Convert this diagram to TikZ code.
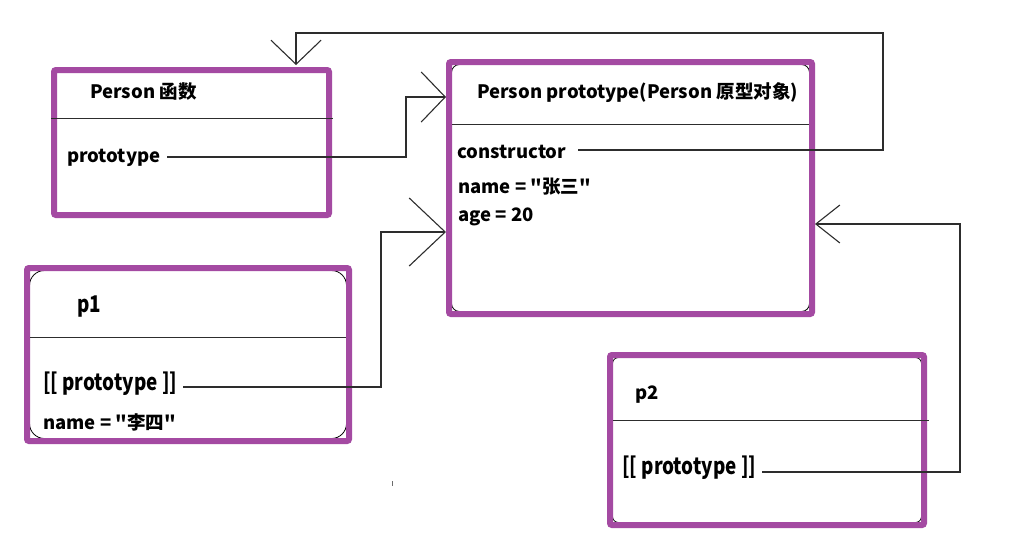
\documentclass[tikz,border=0pt]{standalone}
\usepackage{fontspec}
\newfontfamily\mainfont{Noto Sans CJK SC}
\newfontfamily\narrowfont{Noto Sans CJK SC}[FakeStretch=0.82]
\usetikzlibrary{arrows.meta}
\definecolor{boxpurple}{RGB}{164,74,162}
\definecolor{linegray}{RGB}{45,45,45}
\begin{document}
\begin{tikzpicture}[x=1pt,y=-1pt,
  box/.style={draw=boxpurple,line width=6pt,rounded corners=2pt,inner sep=0pt,outer sep=0pt},
  innerline/.style={draw=black,line width=0.8pt},
  sepline/.style={draw=linegray,line width=1pt},
  conn/.style={draw=linegray,line width=1.1pt},
  arrA/.style={-{Straight Barb[length=24pt,width=50pt]}},
  arrB/.style={-{Straight Barb[length=36pt,width=68pt]}},
  arrC/.style={-{Straight Barb[length=24pt,width=38pt]}},
  lbl/.style={anchor=west,inner sep=0pt,font=\mainfont\fontsize{18.5}{20}\selectfont\bfseries},
  narrowlbl/.style={anchor=west,inner sep=0pt,font=\narrowfont\fontsize{23}{25}\selectfont\bfseries}
]
\fill[white] (0,0) rectangle (1026,552);
\useasboundingbox (0,0) rectangle (1026,552);

% inner rounded outlines (visible at the corners)
\draw[innerline,rounded corners=8pt] (451.5,64.5) rectangle (809.5,311.5);
\draw[innerline,rounded corners=15pt] (29.5,270.5) rectangle (346.5,438.5);
\draw[innerline,rounded corners=6pt] (612.5,357.5) rectangle (921.5,522.5);

% boxes
\node[box,minimum width=275pt,minimum height=145pt] (b1) at (191.5,142.5) {};
\node[box,minimum width=363pt,minimum height=252pt] (b2) at (630.5,188) {};
\node[box,minimum width=322pt,minimum height=173pt] (p1) at (188,354.5) {};
\node[box,minimum width=314pt,minimum height=170pt] (p2) at (767,440) {};

% separators
\draw[sepline] (51,118) -- (333,118);
\draw[sepline] (452,124) -- (809,124);
\draw[sepline] (30,337) -- (346,337);
\draw[sepline] (613,420) -- (929,420);

% texts
\node[lbl] (t1) at (90,92) {Person 函数};
\node[lbl] (t1p) at (67,158) {prototype};
\node[lbl] (t2) at (477,93) {Person prototype(Person 原型对象)};
\node[lbl] (t2c) at (457,152) {constructor};
\node[lbl] (t2n) at (458,187) {name = "张三"};
\node[lbl] (t2a) at (458,217) {age = 20};
\node[narrowlbl] (tp1) at (77,307) {p1};
\node[narrowlbl] (tp1p) at (43,384) {[[ prototype ]]};
\node[lbl] (tp1n) at (43,422) {name = "李四"};
\node[lbl] (tp2) at (635,395) {p2};
\node[narrowlbl] (tp2p) at (622,468) {[[ prototype ]]};

% connector start / bend points
\coordinate (s1) at (167,157);
\coordinate (k1) at (406,97);
\coordinate (s2) at (578,150);
\coordinate (k2) at (883,33);
\coordinate (k2b) at (296,0);
\coordinate (s3) at (183,387);
\coordinate (k3) at (381,232);
\coordinate (s4) at (762,472);
\coordinate (k4) at (960,224);

\draw[conn,arrA] (s1) -| (k1) -- ([xshift=-3pt]b2.west |- k1);
\draw[conn,arrA] (s2) -| (k2) -| ([yshift=5pt]b1.north -| k2b);
\draw[conn,arrB] (s3) -| (k3) -- ([xshift=-3pt]b2.west |- k3);
\draw[conn,arrC] (s4) -| (k4) -- ([xshift=3pt]b2.east |- k4);

% stray mark
\fill[linegray!70] (391.5,481) rectangle (393,486);
\end{tikzpicture}
\end{document}
